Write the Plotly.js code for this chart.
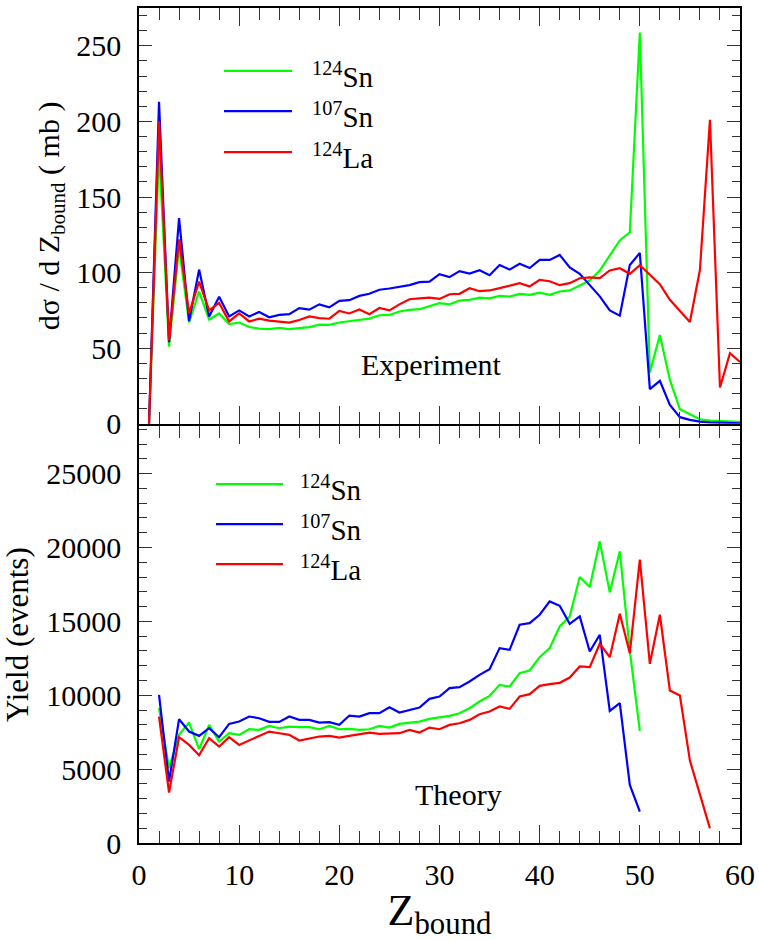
<!DOCTYPE html>
<html>
<head>
<meta charset="utf-8">
<script src="https://cdn.plot.ly/plotly-3.0.1.min.js"></script>
<style>html,body{margin:0;padding:0;background:#fff;}#chart{width:759px;height:941px;}</style>
</head>
<body>
<div id="chart"></div>
<script>
// ---- Experiment (top panel), Z = 1..60, d sigma / dZbound (mb)
const zExp = [1,2,3,4,5,6,7,8,9,10,11,12,13,14,15,16,17,18,19,20,21,22,23,24,25,26,27,28,29,30,
  31,32,33,34,35,36,37,38,39,40,41,42,43,44,45,46,47,48,49,50,51,52,53,54,55,56,57,58,59,60];
const expSn124 = [0,181,51,117,67,87.5,69,73,66,67,64,63,62.6,63.4,62.6,63.2,64,65.6,65.4,67,
  67.9,68.3,69.6,71.8,72,74.3,75.4,75.8,78,79.8,79,81.5,82,83.5,83,84.6,84.1,85.9,85.3,86.8,
  85.3,87.5,88.2,91.5,94.8,101.4,111.7,121.3,126.7,258.8,33.9,58.8,29,9.7,6.4,3,2.2,1.8,1.5,1.3];
const expSn107 = [0,213,54,136,68,102,71,84,71,75,71,74,70.5,72,72.5,76.5,75.5,79,77,81.3,
  81.8,84.6,86,88.7,89.5,90.8,91.7,93.7,94,99,97,101,99.4,101.6,98.3,105,102,105.8,103,108.4,
  108.4,111.7,103.4,99.2,92,84.3,75,71.5,105,113,23,28.4,12.5,4.4,2.6,1.5,1,0.7,0.5,0.4];
const expLa124 = [0,200,55,122,73,94,75,80,67.7,73,67.7,69.5,68.3,67.6,67,68.7,71,69.9,69.5,74.7,
  73,75.6,72.5,76.6,75,79,82.4,83,83.5,82.6,85.7,86,89.7,87.7,88.2,89.7,91.5,93,90.8,95.2,
  94.3,91.7,93,96.3,96.8,96.3,101.4,102.9,99.2,104.9,98.6,92.4,82,74.8,67.3,101.9,201,24,46.7,41];

// ---- Theory (bottom panel), yield (events)
const zThSn = [2,3,4,5,6,7,8,9,10,11,12,13,14,15,16,17,18,19,20,21,22,23,24,25,26,27,28,29,30,
  31,32,33,34,35,36,37,38,39,40,41,42,43,44,45,46,47,48,49,50];
const thSn124 = [9124,5059,7317,8153,6346,7995,6866,7430,7317,7701,7656,7927,7769,7882,7837,7837,
  7700,7926,7700,7723,7655,7700,7926,7813,8061,8152,8219,8400,8513,8603,8784,9123,9575,9959,
  10704,10591,11494,11675,12578,13189,14657,15334,18000,17322,20416,16961,19738,13000,7588];
const thSn107 = [10027,4160,8379,7543,7250,7769,7160,8063,8221,8560,8447,8198,8198,8560,8334,8334,
  8153,8174,7994,8626,8558,8784,8784,9191,8830,9010,9168,9756,9914,10478,10546,10930,11382,11766,
  13189,13076,14770,14883,15447,16350,16057,14838,15334,12963,14092,8943,9463,3930,2123];
const zThLa = [2,3,4,5,6,7,8,9,10,11,12,13,14,15,16,17,18,19,20,21,22,23,24,25,26,27,28,29,30,
  31,32,33,34,35,36,37,38,39,40,41,42,43,44,45,46,47,48,49,50,51,52,53,54,55,56,57];
const thLa124 = [8560,3409,7160,6640,5940,7092,6527,7160,6640,6934,7205,7543,7430,7317,6934,7092,
  7205,7249,7136,7249,7362,7475,7384,7384,7430,7655,7475,7813,7700,7994,8107,8333,8717,8897,
  9236,9078,9914,10073,10634,10749,10839,11200,11946,11900,13483,12578,15515,12850,19174,12127,
  15447,10320,9982,5578,3251,993];

const seriesNames = ["<sup>124</sup>Sn", "<sup>107</sup>Sn", "<sup>124</sup>La"];
const seriesColors = ["#00ff00", "#0000ff", "#ff0000"];
const panelLabels = ["Experiment", "Theory"];

const FONT = "Liberation Serif";
const lw = 2.2;

function tr(x, y, i, xa, ya) {
  return {x: x, y: y, type: "scatter", mode: "lines", name: seriesNames[i],
    line: {color: seriesColors[i], width: lw}, xaxis: xa, yaxis: ya, showlegend: false};
}

const data = [
  tr(zExp, expSn124, 0, "x2", "y2"),
  tr(zExp, expSn107, 1, "x2", "y2"),
  tr(zExp, expLa124, 2, "x2", "y2"),
  tr(zThSn, thSn124, 0, "x", "y"),
  tr(zThSn, thSn107, 1, "x", "y"),
  tr(zThLa, thLa124, 2, "x", "y")
];

const tickCol = "#333";
const xBase = {range: [0, 60], showline: true, linecolor: "#000", linewidth: 1.5, mirror: "ticks",
  ticks: "inside", ticklen: 18, tickwidth: 1.3, tickcolor: tickCol, dtick: 10, tick0: 0,
  minor: {dtick: 2, ticklen: 12, tickwidth: 1.3, tickcolor: tickCol, ticks: "inside"},
  showgrid: false, zeroline: false, tickfont: {family: FONT, size: 30, color: "#000"}, fixedrange: true};

const layout = {
  width: 759, height: 941,
  margin: {l: 139, r: 19, t: 8, b: 98},
  paper_bgcolor: "#fff", plot_bgcolor: "#fff",
  showlegend: false,
  font: {family: FONT, color: "#000"},
  xaxis: Object.assign({}, xBase, {anchor: "y", ticklabelstandoff: 4,
    title: {text: "Z<sub>bound</sub>", font: {family: FONT, size: 44, color: "#000"}, standoff: 0}}),
  xaxis2: Object.assign({}, xBase, {anchor: "y2", showticklabels: false}),
  yaxis: {domain: [0, 0.499], range: [0, 28200], anchor: "x", showline: true, linecolor: "#000",
    linewidth: 1.5, mirror: "ticks", ticks: "inside", ticklen: 13, tickwidth: 1.3, tickcolor: tickCol,
    dtick: 5000, tick0: 0, tickformat: "d", minor: {dtick: 1000, ticklen: 8, tickwidth: 1.3, tickcolor: tickCol, ticks: "inside"},
    showgrid: false, zeroline: false, ticklabelstandoff: 10,
    tickfont: {family: FONT, size: 30, color: "#000"},
    title: {text: "Yield (events)", font: {family: FONT, size: 31, color: "#000"}, standoff: 10}, fixedrange: true},
  yaxis2: {domain: [0.502, 1], range: [0, 275], anchor: "x2", showline: true, linecolor: "#000",
    linewidth: 1.5, mirror: "ticks", ticks: "inside", ticklen: 13, tickwidth: 1.3, tickcolor: tickCol,
    dtick: 50, tick0: 0, minor: {dtick: 10, ticklen: 8, tickwidth: 1.3, tickcolor: tickCol, ticks: "inside"},
    showgrid: false, zeroline: false, ticklabelstandoff: 10,
    tickfont: {family: FONT, size: 30, color: "#000"},
    title: {text: "dσ / d Z<sub>bound</sub> ( mb )", font: {family: FONT, size: 30, color: "#000"}, standoff: 8}, fixedrange: true},
  shapes: [],
  annotations: []
};

// legend entries (drawn as line samples + labels)
const legTop = {x0: 0.1414, x1: 0.2546, tx: 0.2845, ys: [0.9246, 0.8766, 0.8274]};
const legBot = {x0: 0.1281, x1: 0.2396, tx: 0.2646, ys: [0.4299, 0.3820, 0.3341]};
[legTop, legBot].forEach(function (L) {
  L.ys.forEach(function (yy, i) {
    layout.shapes.push({type: "line", xref: "paper", yref: "paper", x0: L.x0, x1: L.x1, y0: yy, y1: yy,
      line: {color: seriesColors[i], width: lw}});
    layout.annotations.push({xref: "paper", yref: "paper", x: L.tx, y: yy - 0.005, xanchor: "left", yanchor: "middle",
      text: seriesNames[i], showarrow: false, font: {family: FONT, size: 29, color: "#000"}});
  });
});
layout.annotations.push({xref: "paper", yref: "paper", x: 0.4875, y: 0.5725, xanchor: "center", yanchor: "middle",
  text: panelLabels[0], showarrow: false, font: {family: FONT, size: 30, color: "#000"}});
layout.annotations.push({xref: "paper", yref: "paper", x: 0.5308, y: 0.0575, xanchor: "center", yanchor: "middle",
  text: panelLabels[1], showarrow: false, font: {family: FONT, size: 30, color: "#000"}});

Plotly.newPlot("chart", data, layout, {displayModeBar: false});
</script>
</body>
</html>
